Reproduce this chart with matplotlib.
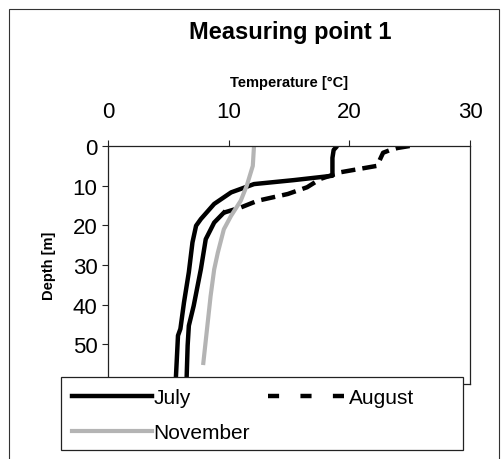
import matplotlib.pyplot as plt
from matplotlib.lines import Line2D
from matplotlib.patches import Rectangle

plt.rcParams['font.family'] = ['Liberation Sans', 'DejaVu Sans']

# depth profiles
july_depth = [0, 1, 3, 5, 7.5, 8.6, 9.6, 11.7, 14.6, 18.4, 20.1, 24.3, 31.8, 39.4, 46.1, 47.8, 60]
july_temp = [19.0, 18.7, 18.6, 18.6, 18.6, 15.4, 12.1, 10.2, 8.8, 7.7, 7.3, 7.0, 6.7, 6.3, 6.0, 5.8, 5.6]

aug_depth = [0, 0.5, 1, 1.7, 3, 5, 6.6, 8.3, 10.4, 12.1, 13.8, 15.5, 16.8, 19.3, 23.5, 31, 40.3, 45.3, 50.3, 60]
aug_temp = [25.0, 24.0, 23.4, 22.8, 22.6, 22.3, 19.3, 17.6, 16.5, 14.9, 12.4, 11.0, 9.6, 8.8, 8.1, 7.7, 7.1, 6.7, 6.6, 6.5]

nov_depth = [0, 5, 10, 13.8, 17.6, 21, 26.9, 31.1, 37.9, 46.3, 54.7]
nov_temp = [12.1, 12.0, 11.5, 11.0, 10.2, 9.6, 9.1, 8.8, 8.5, 8.2, 7.9]

series_names = ['July', 'August', 'November']

fig = plt.figure(figsize=(5.01, 4.60), dpi=100)
# outer chart border (bottom edge runs off the picture)
fig.patches.append(Rectangle((9 / 501, -0.02), 490 / 501, 1 - 10 / 460 + 0.02, transform=fig.transFigure,
                             fill=False, edgecolor='#333333', linewidth=0.8))

ax = fig.add_axes([108 / 501, 1 - 385 / 460, 362 / 501, 238 / 460])

ax.plot(july_temp, july_depth, color='black', lw=3.2, solid_capstyle='butt')
# upper part of August is clearly dashed, deeper part looks continuous
split = 12
ax.plot(aug_temp[:split + 1], aug_depth[:split + 1], color='black', lw=3.2, ls=(0, (3.2, 1.6)))
ax.plot(aug_temp[split:], aug_depth[split:], color='black', lw=3.2)
ax.plot(nov_temp, nov_depth, color='#b4b4b4', lw=3.0)

ax.set_xlim(0, 30)
ax.set_ylim(60, 0)
ax.set_xticks([0, 10, 20, 30])
ax.set_yticks([0, 10, 20, 30, 40, 50, 60])
ax.xaxis.tick_top()
ax.xaxis.set_label_position('top')
ax.tick_params(axis='both', labelsize=16, direction='out', length=4, width=0.8, color='#222222')
ax.tick_params(axis='x', pad=13)
ax.set_xlabel('Temperature [°C]', fontsize=10.5, fontweight='bold', labelpad=11)
ax.set_ylabel('Depth [m]', fontsize=10.5, fontweight='bold', labelpad=12)
for sp in ax.spines.values():
    sp.set_linewidth(0.9)
    sp.set_color('#222222')

fig.text(290 / 501, 1 - 33 / 460, 'Measuring point 1', ha='center', va='center',
         fontsize=17, fontweight='bold')

# legend box drawn separately so the entries can sit as in the original
fig.patches.append(Rectangle((61 / 501, 1 - 451 / 460), 402 / 501, 73 / 460, transform=fig.transFigure,
                             facecolor='white', edgecolor='#222222', linewidth=0.9, zorder=4))
handles = [Line2D([], [], color='black', lw=3.2),
           Line2D([], [], color='black', lw=3.2, ls=(0, (2.5, 4.8))),
           Line2D([], [], color='#b4b4b4', lw=3.0)]
leg = fig.legend([handles[0], handles[2], handles[1]],
                 [series_names[0], series_names[2], series_names[1]],
                 ncol=2, loc='upper left',
                 bbox_to_anchor=(61 / 501, 1 - 378 / 460),
                 fontsize=15, frameon=False,
                 handlelength=3.8, handletextpad=0.1, labelspacing=0.75,
                 borderaxespad=0, borderpad=0.55, columnspacing=0.85)
leg.set_zorder(5)

fig.savefig('out.png', dpi=100)
